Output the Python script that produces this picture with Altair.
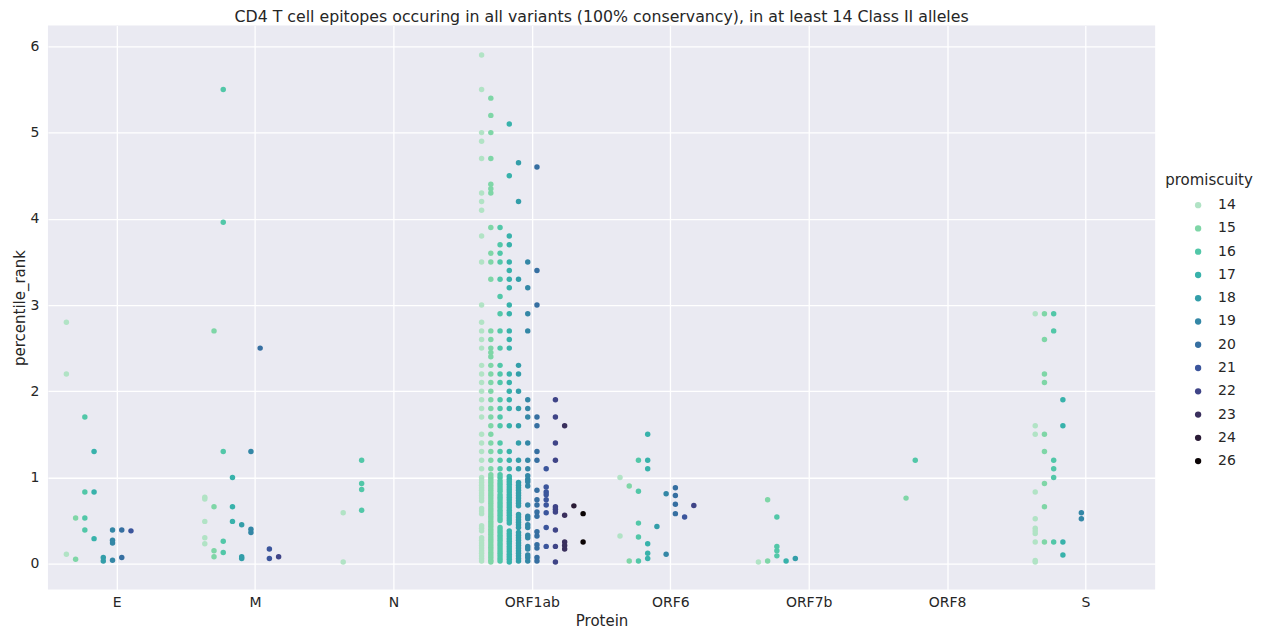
import altair as alt
import pandas as pd

proteins = ["E", "M", "N", "ORF1ab", "ORF6", "ORF7b", "ORF8", "S"]
levels = [14, 15, 16, 17, 18, 19, 20, 21, 22, 23, 24, 26]
colors = ["#b1e3c5", "#7fd6a7", "#52c7a8", "#38b2ab", "#339ea9", "#3487a6",
          "#366fa1", "#3b559c", "#3f4487", "#3a2f5d", "#2a1b36", "#0b0405"]

# ---- E ----
E_14 = [2.8, 2.2, 0.11]
E_15 = [0.53, 0.05]
E_16 = [1.7, 0.83, 0.53, 0.39]
E_17 = [1.3, 0.83, 0.29]
E_18 = [0.07, 0.03]
E_19 = [0.39, 0.27, 0.24, 0.04]
E_20 = [0.39, 0.07]
E_21 = [0.38]

# ---- M ----
M_14 = [0.77, 0.75, 0.49, 0.3, 0.23]
M_15 = [2.7, 0.66, 0.15, 0.08]
M_16 = [5.5, 3.96, 1.3, 0.26, 0.13]
M_17 = [1.0, 0.66, 0.49]
M_18 = [0.45, 0.08, 0.06]
M_19 = [1.3, 0.4, 0.36]
M_20 = [2.5]
M_21 = [0.17, 0.06]
M_22 = [0.08]

# ---- N ----
N_14 = [0.59, 0.02]
N_16 = [1.2, 0.93, 0.86, 0.62]

# ---- ORF1ab ----
ORF1ab_14 = [5.9, 5.5, 5.0, 4.9, 4.7, 4.3, 4.2, 4.1, 3.8, 3.5, 3.0, 2.8, 2.7, 2.6, 2.5,
             2.3, 2.2, 2.1, 2.0, 1.9, 1.8, 1.7, 1.5, 1.4, 1.3, 1.2, 1.1,
             1.0, 0.97, 0.94, 0.91, 0.88, 0.85, 0.82, 0.79, 0.76, 0.73, 0.64, 0.61,
             0.58, 0.44, 0.41, 0.38, 0.3, 0.27, 0.24, 0.21, 0.18, 0.15, 0.12, 0.09,
             0.06, 0.03]
ORF1ab_15 = [5.4, 5.2, 5.0, 4.7, 4.4, 4.35, 4.3, 3.9, 3.6, 3.5, 3.3, 2.7, 2.6, 2.5, 2.45,
             2.4, 2.3, 2.2, 2.1, 2.0, 1.9, 1.8, 1.7, 1.6, 1.5, 1.4, 1.3, 1.2, 1.1,
             1.03, 1.0, 0.97, 0.94, 0.91, 0.88, 0.85, 0.82, 0.79, 0.76, 0.73, 0.7,
             0.67, 0.64, 0.61, 0.58, 0.55, 0.52, 0.49, 0.46, 0.43, 0.4, 0.37, 0.34,
             0.31, 0.28, 0.25, 0.22, 0.19, 0.16, 0.13, 0.1, 0.07, 0.04, 0.02]
ORF1ab_16 = [3.9, 3.7, 3.6, 3.5, 3.3, 3.1, 2.9, 2.7, 2.5, 2.3, 2.2, 2.1, 1.9, 1.8, 1.7,
             1.6, 1.4, 1.3, 1.2, 1.1,
             1.03, 1.0, 0.96, 0.93, 0.9, 0.87, 0.84, 0.8, 0.77, 0.74, 0.71, 0.68,
             0.65, 0.62, 0.59, 0.56, 0.53, 0.5, 0.42, 0.39, 0.36, 0.33, 0.3, 0.27,
             0.24, 0.21, 0.18, 0.15, 0.12, 0.09, 0.06, 0.03]
ORF1ab_17 = [5.1, 4.5, 3.8, 3.7, 3.5, 3.4, 3.3, 3.2, 3.0, 2.9, 2.7, 2.6, 2.5, 2.2, 2.1,
             2.0, 1.9, 1.8, 1.6, 1.3, 1.2, 1.1,
             1.01, 0.98, 0.95, 0.92, 0.89, 0.86, 0.83, 0.8, 0.77, 0.74, 0.71, 0.68,
             0.65, 0.62, 0.59, 0.56, 0.53, 0.5, 0.47, 0.38, 0.35, 0.32, 0.29, 0.26,
             0.23, 0.2, 0.17, 0.14, 0.11, 0.08, 0.05, 0.02]
ORF1ab_18 = [4.65, 4.2, 3.3, 2.3, 2.2, 2.0, 1.8, 1.6, 1.4, 1.2, 1.1,
             0.94, 0.91, 0.88, 0.85, 0.82, 0.79, 0.76, 0.73, 0.7, 0.67, 0.57, 0.54,
             0.51, 0.48, 0.45, 0.42, 0.36, 0.33, 0.3, 0.27, 0.24, 0.21, 0.18, 0.15,
             0.12, 0.09, 0.06, 0.03]
ORF1ab_19 = [3.5, 3.2, 2.9, 2.7, 1.9, 1.8, 1.7, 1.4, 1.2, 1.1, 1.02, 0.98, 0.95, 0.9,
             0.68, 0.55, 0.52, 0.45, 0.42, 0.33, 0.3, 0.2, 0.17, 0.1, 0.07, 0.03]
ORF1ab_20 = [4.6, 3.4, 3.0, 1.7, 1.6, 1.3, 1.2, 0.85, 0.74, 0.68, 0.6, 0.55, 0.37, 0.32,
             0.22, 0.18, 0.07, 0.03]
ORF1ab_21 = [1.1, 0.89, 0.83, 0.8, 0.74, 0.68, 0.59, 0.42, 0.2]
ORF1ab_22 = [1.9, 1.7, 1.4, 1.2, 0.66, 0.63, 0.6, 0.39, 0.2, 0.02]
ORF1ab_23 = [1.6, 0.56, 0.25, 0.21, 0.17]
ORF1ab_24 = [0.67]
ORF1ab_26 = [0.58, 0.25]

# ---- ORF6 ----
ORF6_14 = [1.0, 0.32]
ORF6_15 = [0.9, 0.03]
ORF6_16 = [1.2, 0.84, 0.47, 0.31, 0.03]
ORF6_17 = [1.5, 1.2, 1.1, 0.23, 0.12, 0.06]
ORF6_18 = [0.43]
ORF6_19 = [0.81, 0.11]
ORF6_20 = [0.88, 0.79, 0.69, 0.58]
ORF6_21 = [0.54]
ORF6_22 = [0.675]

# ---- ORF7b ----
ORF7b_14 = [0.02]
ORF7b_15 = [0.74, 0.03]
ORF7b_16 = [0.54, 0.2, 0.15, 0.09]
ORF7b_17 = [0.03]
ORF7b_18 = [0.06]

# ---- ORF8 ----
ORF8_15 = [0.76]
ORF8_16 = [1.2]

# ---- S ----
S_14 = [2.9, 1.6, 1.5, 0.83, 0.52, 0.41, 0.38, 0.35, 0.25, 0.035, 0.02]
S_15 = [2.9, 2.6, 2.2, 2.1, 1.5, 1.3, 0.93, 0.66, 0.25]
S_16 = [2.9, 2.7, 1.2, 1.1, 1.0, 0.25]
S_17 = [1.9, 1.6, 0.25, 0.1]
S_19 = [0.59, 0.52]

series = [
    ("E", 14, E_14), ("E", 15, E_15), ("E", 16, E_16), ("E", 17, E_17),
    ("E", 18, E_18), ("E", 19, E_19), ("E", 20, E_20), ("E", 21, E_21),
    ("M", 14, M_14), ("M", 15, M_15), ("M", 16, M_16), ("M", 17, M_17),
    ("M", 18, M_18), ("M", 19, M_19), ("M", 20, M_20), ("M", 21, M_21),
    ("M", 22, M_22),
    ("N", 14, N_14), ("N", 16, N_16),
    ("ORF1ab", 14, ORF1ab_14), ("ORF1ab", 15, ORF1ab_15), ("ORF1ab", 16, ORF1ab_16),
    ("ORF1ab", 17, ORF1ab_17), ("ORF1ab", 18, ORF1ab_18), ("ORF1ab", 19, ORF1ab_19),
    ("ORF1ab", 20, ORF1ab_20), ("ORF1ab", 21, ORF1ab_21), ("ORF1ab", 22, ORF1ab_22),
    ("ORF1ab", 23, ORF1ab_23), ("ORF1ab", 24, ORF1ab_24), ("ORF1ab", 26, ORF1ab_26),
    ("ORF6", 14, ORF6_14), ("ORF6", 15, ORF6_15), ("ORF6", 16, ORF6_16),
    ("ORF6", 17, ORF6_17), ("ORF6", 18, ORF6_18), ("ORF6", 19, ORF6_19),
    ("ORF6", 20, ORF6_20), ("ORF6", 21, ORF6_21), ("ORF6", 22, ORF6_22),
    ("ORF7b", 14, ORF7b_14), ("ORF7b", 15, ORF7b_15), ("ORF7b", 16, ORF7b_16),
    ("ORF7b", 17, ORF7b_17), ("ORF7b", 18, ORF7b_18),
    ("ORF8", 15, ORF8_15), ("ORF8", 16, ORF8_16),
    ("S", 14, S_14), ("S", 15, S_15), ("S", 16, S_16), ("S", 17, S_17), ("S", 19, S_19),
]

rows = []
for prot, lvl, vals in series:
    for v in vals:
        rows.append({"Protein": prot, "promiscuity": lvl, "percentile_rank": v})
df = pd.DataFrame(rows)

FONT = "DejaVu Sans"
TXT = "#262626"

chart = alt.Chart(df).mark_circle(size=30, opacity=1).encode(
    x=alt.X("Protein:N",
            scale=alt.Scale(domain=proteins, paddingInner=0.2, paddingOuter=0.1),
            axis=alt.Axis(title="Protein", labelAngle=0, labelPadding=6, titlePadding=4,
                          ticks=False, domain=False, grid=True)),
    xOffset=alt.XOffset("promiscuity:N",
                        scale=alt.Scale(type="point", domain=levels, padding=0.5)),
    y=alt.Y("percentile_rank:Q",
            scale=alt.Scale(domain=[-0.301, 6.243], nice=False, zero=False),
            axis=alt.Axis(title="percentile_rank", values=[0, 1, 2, 3, 4, 5, 6],
                          labelPadding=9, titlePadding=3, ticks=False, domain=False,
                          grid=True)),
    color=alt.Color("promiscuity:N",
                    scale=alt.Scale(domain=levels, range=colors),
                    legend=alt.Legend(title="promiscuity", orient="none",
                                      legendX=1119, legendY=148, symbolType="circle",
                                      symbolSize=40, symbolOffset=26, labelOffset=13,
                                      rowPadding=9.3, titlePadding=10, padding=0,
                                      symbolStrokeWidth=0)),
).properties(
    width=1109,
    height=565,
    title=alt.TitleParams(
        "CD4 T cell epitopes occuring in all variants (100% conservancy), in at least 14 Class II alleles",
        fontSize=15.8, font=FONT, fontWeight="normal", color=TXT, offset=0),
    padding={"left": 40, "top": 17, "right": 110, "bottom": 44},
    autosize=alt.AutoSizeParams(type="none"),
).configure_view(
    fill="#EAEAF2", strokeWidth=0
).configure_axis(
    labelFont=FONT, titleFont=FONT, labelFontSize=14, titleFontSize=15,
    labelColor=TXT, titleColor=TXT, titleFontWeight="normal",
    gridColor="#FFFFFF", gridWidth=1.3, gridOpacity=1
).configure_legend(
    labelFont=FONT, titleFont=FONT, labelFontSize=14, titleFontSize=15,
    labelColor=TXT, titleColor=TXT, titleFontWeight="normal"
)

chart.save("out.html", embed_options={"renderer": "svg", "actions": False})
